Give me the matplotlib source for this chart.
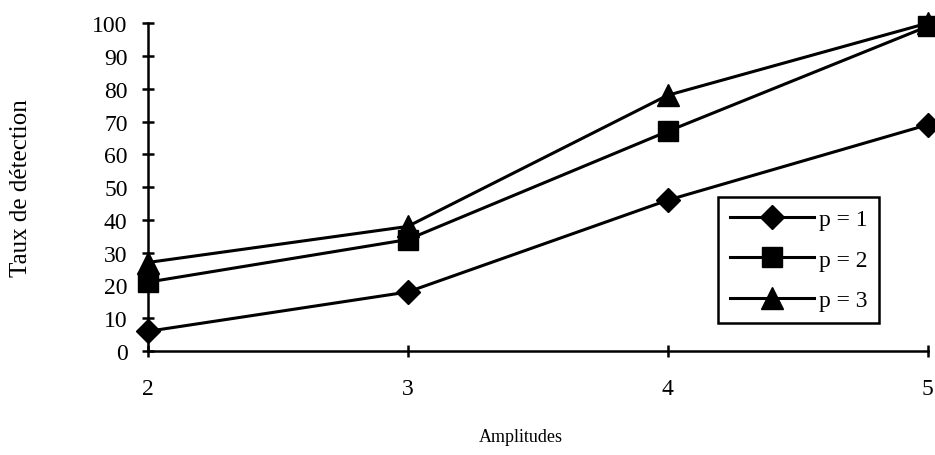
import matplotlib
matplotlib.use("Agg")
import matplotlib.pyplot as plt

# Données
amplitudes = [2, 3, 4, 5]
taux_p1 = [6, 18, 46, 69]
taux_p2 = [21, 34, 67, 99]
taux_p3 = [27, 38, 78, 100]
labels = ["p = 1", "p = 2", "p = 3"]
y_ticks = list(range(0, 101, 10))

plt.rcParams['font.family'] = ['Liberation Serif', 'DejaVu Serif']

fig = plt.figure(figsize=(9.35, 4.56), dpi=100)
ax = fig.add_axes([0.158, 0.228, 0.834, 0.719])

styles = [('D', 12), ('s', 15), ('^', 16)]
for vals, lab, (mk, ms) in zip([taux_p1, taux_p2, taux_p3], labels, styles):
    ax.plot(amplitudes, vals, color='black', linewidth=2.2, marker=mk,
            markersize=ms, label=lab, clip_on=False, zorder=3)

ax.set_xlim(2, 5)
ax.set_ylim(0, 100)
ax.set_xticks(amplitudes)
ax.set_yticks(y_ticks)
ax.tick_params(axis='both', direction='inout', length=9, width=1.8,
               labelsize=17, colors='black')
ax.tick_params(axis='x', pad=15)
ax.tick_params(axis='y', pad=10)

for s in ['top', 'right']:
    ax.spines[s].set_visible(False)
for s in ['left', 'bottom']:
    ax.spines[s].set_linewidth(1.8)

ax.set_xlabel("Amplitudes", fontsize=13)
ax.xaxis.set_label_coords(0.478, -0.235)
ax.set_ylabel("Taux de détection", fontsize=18, labelpad=43)

leg = ax.legend(loc='upper right', bbox_to_anchor=(0.938, 0.47),
                fontsize=17, handlelength=3.55, handletextpad=0.2,
                labelspacing=0.8, borderpad=0.5, fancybox=False,
                framealpha=1, edgecolor='black', borderaxespad=0)
leg.get_frame().set_linewidth(1.8)

fig.savefig("out.png", dpi=100)
